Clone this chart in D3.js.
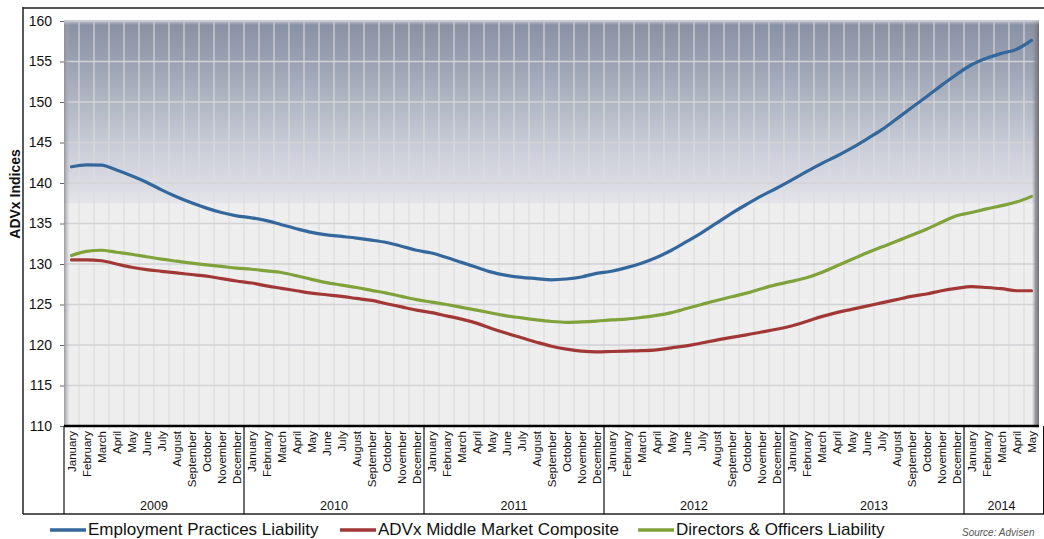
<!DOCTYPE html>
<html><head><meta charset="utf-8">
<script src="https://cdn.jsdelivr.net/npm/d3@7"></script>
<style>
html,body{margin:0;padding:0;background:#fff;}
svg{display:block;font-family:"Liberation Sans",Arial,Helvetica,sans-serif;}
</style></head>
<body>
<svg id="chart" width="1044" height="539"></svg>
<script>
// ---------- data ----------
const monthNames = ["January","February","March","April","May","June","July","August","September","October","November","December"];
const yearLabels = ["2009","2010","2011","2012","2013","2014"];
const monthsPerYear = [12,12,12,12,12,5];
const yTicks = [110,115,120,125,130,135,140,145,150,155,160];
const seriesNames = ["Employment Practices Liability","ADVx Middle Market Composite","Directors & Officers Liability"];

const eplValues = [
  142.0,142.25,142.2,141.6,140.9,140.1,139.15,138.3,137.55,136.9,136.35,135.95,
  135.7,135.35,134.85,134.35,133.9,133.6,133.4,133.2,132.95,132.65,132.2,131.7,
  131.35,130.8,130.2,129.6,129.0,128.6,128.35,128.2,128.05,128.15,128.4,128.85,
  129.1,129.55,130.1,130.8,131.7,132.75,133.85,135.05,136.25,137.35,138.4,139.35,
  140.35,141.4,142.4,143.3,144.3,145.4,146.55,147.9,149.3,150.65,152.05,153.4,
  154.6,155.4,156.0,156.5,157.6];
const compositeValues = [
  130.5,130.5,130.4,130.0,129.6,129.3,129.1,128.9,128.7,128.5,128.2,127.9,
  127.65,127.3,127.0,126.7,126.4,126.2,126.0,125.75,125.5,125.1,124.7,124.3,
  124.0,123.6,123.2,122.7,122.05,121.45,120.9,120.35,119.85,119.5,119.25,119.15,
  119.2,119.25,119.3,119.4,119.65,119.9,120.25,120.6,120.95,121.25,121.6,121.95,
  122.35,122.9,123.5,124.0,124.4,124.8,125.2,125.6,126.0,126.3,126.7,127.0,
  127.2,127.1,126.95,126.7,126.7];
const doValues = [
  131.05,131.55,131.7,131.45,131.2,130.9,130.6,130.35,130.1,129.9,129.7,129.5,
  129.35,129.15,128.95,128.55,128.1,127.7,127.4,127.1,126.75,126.4,126.0,125.6,
  125.3,125.0,124.65,124.3,123.95,123.6,123.35,123.1,122.9,122.8,122.85,122.95,
  123.1,123.2,123.4,123.65,124.0,124.5,125.0,125.5,125.95,126.4,126.95,127.45,
  127.85,128.3,128.95,129.75,130.55,131.35,132.1,132.8,133.55,134.3,135.15,135.95,
  136.35,136.8,137.2,137.65,138.35];
const seriesColors = ["#34679c","#a23836","#80a23b"];

// ---------- build ----------
const categories = [];
yearLabels.forEach((y,yi)=>{ for(let m=0;m<monthsPerYear[yi];m++) categories.push({key:y+"-"+m, month:monthNames[m], year:y}); });
const seriesData = [eplValues, compositeValues, doValues];

const svg = d3.select("#chart");
const L=64, R=1039, T=21, B=426;
const x = d3.scaleBand().domain(categories.map(d=>d.key)).range([L,R]).padding(0);
const y = d3.scaleLinear().domain([110,160]).range([B,T]);

const defs = svg.append("defs");
const bg = defs.append("linearGradient").attr("id","bg").attr("x1",0).attr("y1",0).attr("x2",0).attr("y2",1);
[[0,"#878fa2"],[0.1,"#9aa1b2"],[0.22,"#b5bac7"],[0.33,"#cdd0da"],[0.4,"#d9dae2"],[0.45,"#e4e4ea"],[0.453,"#eeeeee"],[1,"#eeeeee"]]
  .forEach(s=>bg.append("stop").attr("offset",s[0]).attr("stop-color",s[1]));
const lg = defs.append("linearGradient").attr("id","ledge").attr("x1",0).attr("x2",1);
lg.append("stop").attr("offset",0).attr("stop-color","#8e8e94").attr("stop-opacity",0.9);
lg.append("stop").attr("offset",1).attr("stop-color","#b8b8bc").attr("stop-opacity",0);
const rg = defs.append("linearGradient").attr("id","redge").attr("x1",0).attr("x2",1);
rg.append("stop").attr("offset",0).attr("stop-color","#909096").attr("stop-opacity",0);
rg.append("stop").attr("offset",0.5).attr("stop-color","#85858c").attr("stop-opacity",0.8);
rg.append("stop").attr("offset",1).attr("stop-color","#6e6e74").attr("stop-opacity",1);
const tg = defs.append("linearGradient").attr("id","tedge").attr("x1",0).attr("y1",0).attr("x2",0).attr("y2",1);
tg.append("stop").attr("offset",0).attr("stop-color","#c8ccd4").attr("stop-opacity",1);
tg.append("stop").attr("offset",1).attr("stop-color","#c8ccd4").attr("stop-opacity",0);

// outer frame
svg.append("line").attr("x1",23).attr("x2",1044).attr("y1",8).attr("y2",8).attr("stroke","#555").attr("stroke-width",2);
svg.append("line").attr("x1",23).attr("x2",23).attr("y1",7).attr("y2",514).attr("stroke","#222").attr("stroke-width",1.5);
svg.append("line").attr("x1",23).attr("x2",1044).attr("y1",514).attr("y2",514).attr("stroke","#222").attr("stroke-width",1.5);

// plot background
svg.append("rect").attr("x",L).attr("y",T-1).attr("width",R-L).attr("height",B-T+1).attr("fill","url(#bg)");

// gridlines
const g = svg.append("g");
g.selectAll(".vg").data(categories.slice(1)).join("line")
  .attr("x1",d=>x(d.key)).attr("x2",d=>x(d.key)).attr("y1",T-1).attr("y2",B+4)
  .attr("stroke","#dcdcdf").attr("stroke-width",1.1);
g.selectAll(".hg").data(yTicks.slice(1)).join("line")
  .attr("x1",L).attr("x2",R).attr("y1",d=>y(d)).attr("y2",d=>y(d))
  .attr("stroke","#d2d2d6").attr("stroke-width",1.6);

// bevel edges
svg.append("rect").attr("x",L).attr("y",T-1).attr("width",6).attr("height",B-T+1).attr("fill","url(#ledge)");
svg.append("rect").attr("x",R-7).attr("y",T-1).attr("width",7).attr("height",B-T+1).attr("fill","url(#redge)");
svg.append("rect").attr("x",L).attr("y",T-1).attr("width",R-L).attr("height",5).attr("fill","url(#tedge)");

// y axis
const yAxis = d3.axisLeft(y).tickValues(yTicks).tickSize(4).tickPadding(8);
const ya = svg.append("g").attr("transform",`translate(${L},0)`).call(yAxis);
ya.select(".domain").remove();
ya.selectAll(".tick line").attr("stroke","#666");
ya.selectAll("text").attr("font-size","14px").attr("fill","#111").attr("font-family","Liberation Sans, Arial, sans-serif");

svg.append("text").attr("transform","translate(20,194) rotate(-90)")
  .attr("text-anchor","middle").attr("font-weight","bold").attr("font-size","14px").attr("fill","#111")
  .text("ADVx Indices");

// x axis
svg.append("line").attr("x1",L).attr("x2",R).attr("y1",B).attr("y2",B).attr("stroke","#000").attr("stroke-width",2.5);
const xa = svg.append("g");
xa.selectAll("text.m").data(categories).join("text")
  .attr("transform",d=>`translate(${x(d.key)+x.bandwidth()/2+4},${B+5}) rotate(-90)`)
  .attr("text-anchor","end").attr("font-size","11.5px").attr("fill","#111").text(d=>d.month);
// year groups
const yearStarts = [];
let acc=0; yearLabels.forEach((yl,i)=>{ yearStarts.push({year:yl,start:acc,end:acc+monthsPerYear[i]}); acc+=monthsPerYear[i]; });
const keyAt = i => categories[Math.min(i,categories.length-1)].key;
xa.selectAll("line.ys").data(yearStarts).join("line")
  .attr("x1",d=>x(keyAt(d.start))).attr("x2",d=>x(keyAt(d.start))).attr("y1",B).attr("y2",514)
  .attr("stroke","#111").attr("stroke-width",1.2);
xa.append("line").attr("x1",1044).attr("x2",1044).attr("y1",B).attr("y2",514).attr("stroke","#111").attr("stroke-width",2);
xa.selectAll("text.yl").data(yearStarts).join("text")
  .attr("x",d=>{ const a=x(keyAt(d.start)); const b=d.end>=categories.length?R:x(keyAt(d.end)); return (a+b)/2; })
  .attr("y",510).attr("text-anchor","middle").attr("font-size","12.5px").attr("fill","#111").text(d=>d.year);

// lines
const line = d3.line().x((d,i)=>x(categories[i].key)+x.bandwidth()/2).y(d=>y(d)).curve(d3.curveMonotoneX);
svg.append("g").selectAll("path").data(seriesData).join("path")
  .attr("d",d=>line(d)).attr("fill","none").attr("stroke",(d,i)=>seriesColors[i])
  .attr("stroke-width",3.2).attr("stroke-linejoin","round").attr("stroke-linecap","round");

// legend
const legX = [50,340,638];
const lgd = svg.append("g");
seriesNames.forEach((n,i)=>{
  lgd.append("line").attr("x1",legX[i]).attr("x2",legX[i]+36).attr("y1",530).attr("y2",530)
    .attr("stroke",seriesColors[i]).attr("stroke-width",3.5);
  lgd.append("text").attr("x",legX[i]+38).attr("y",535).attr("font-size","17px").attr("fill","#111").text(n);
});
svg.append("text").attr("x",962).attr("y",536).attr("font-size","10px").attr("fill","#555").attr("font-style","italic").text("Source: Advisen");
</script>
</body></html>
